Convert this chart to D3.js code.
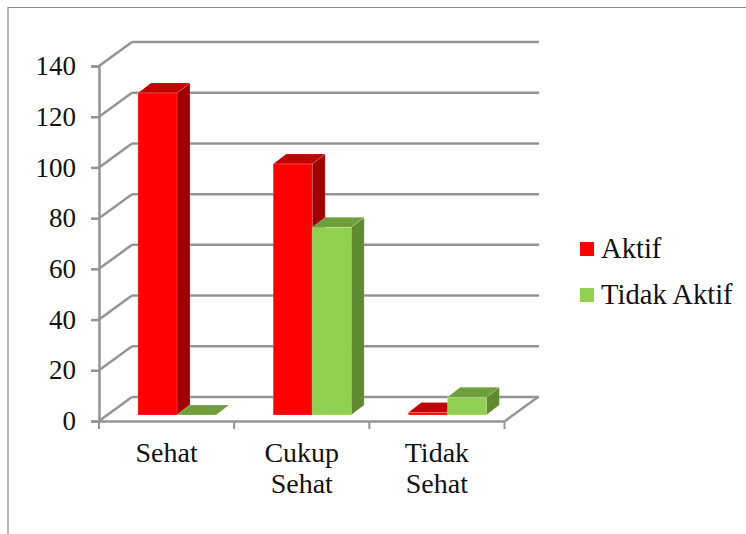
<!DOCTYPE html>
<html>
<head>
<meta charset="utf-8">
<script src="https://cdn.jsdelivr.net/npm/d3@7"></script>
<style>
    html, body { margin: 0; padding: 0; background: #fff; }
    svg { display: block; }
    text { font-family: "Liberation Serif", serif; fill: #111; }
</style>
</head>
<body>
<div id="chart"></div>
<script>
// Chart data
var categories = ["Sehat", "Cukup Sehat", "Tidak Sehat"];
var seriesNames = ["Aktif", "Tidak Aktif"];
var aktif = [127, 99, 1];
var tidakAktif = [0, 74, 7];
var yTicks = [0, 20, 40, 60, 80, 100, 120, 140];

var seriesValues = [aktif, tidakAktif];
var frontColors = ["#ff0000", "#92d050"];
var sideColors = ["#a00000", "#5f8a30"];
var topColors = ["#c00000", "#6f9e3c"];

var width = 746, height = 534;
var gridColor = "#949494";

// offset of the back wall, and of the bars from the front of the floor
var wall = {x: 33, y: -24};
var barDepth = {x: 13, y: -10};
var barShift = -6;

var svg = d3.select("#chart")
    .append("svg")
    .attr("width", width)
    .attr("height", height);

// page border (left and top only)
svg.append("path")
    .attr("d", "M8,534V7.5H746")
    .attr("fill", "none")
    .attr("stroke", "#8a8a8a")
    .attr("stroke-width", 1.2);

// Scales
var x = d3.scaleBand()
    .domain(categories)
    .range([99, 504.5]);

var xSeries = d3.scaleBand()
    .domain(seriesNames)
    .range([39, 117]);

var y = d3.scaleLinear()
    .domain([0, 140])
    .range([421, 66]);

// Gridlines on the back wall and the slanted lines on the side wall
var grid = svg.append("g");

grid.selectAll(".back")
    .data(yTicks)
    .enter()
    .append("line")
    .attr("x1", 99 + wall.x)
    .attr("x2", 505 + wall.x + 1)
    .attr("y1", d => y(d) + wall.y)
    .attr("y2", d => y(d) + wall.y);

grid.selectAll(".slant")
    .data(yTicks)
    .enter()
    .append("line")
    .attr("x1", 99)
    .attr("x2", 99 + wall.x)
    .attr("y1", d => y(d))
    .attr("y2", d => y(d) + wall.y);

// right edge of the floor
grid.append("line")
    .attr("x1", 505)
    .attr("x2", 505 + wall.x)
    .attr("y1", y(0))
    .attr("y2", y(0) + wall.y);

grid.selectAll("line")
    .attr("stroke", gridColor)
    .attr("stroke-width", 2.5);

// Axes
var yAxis = svg.append("g")
    .attr("transform", "translate(99,0)")
    .call(d3.axisLeft(y).tickValues(yTicks).tickSize(8).tickPadding(15));

yAxis.selectAll("text")
    .attr("font-size", 27)
    .attr("font-family", "Liberation Serif")
    .style("fill", "#111");

var xAxis = svg.append("g")
    .attr("transform", "translate(0,421)")
    .call(d3.axisBottom(x).tickSize(0).tickFormat(""));

// ticks sit on the category edges, not the centres
xAxis.selectAll(".tick").remove();
xAxis.selectAll(".edge")
    .data(categories.concat(["end"]))
    .enter()
    .append("line")
    .attr("x1", (d, i) => i < categories.length ? x(d) : x.range()[1])
    .attr("x2", (d, i) => i < categories.length ? x(d) : x.range()[1])
    .attr("y1", 0)
    .attr("y2", 8)
    .attr("stroke", gridColor)
    .attr("stroke-width", 2);

svg.selectAll(".domain, .tick line")
    .attr("stroke", gridColor)
    .attr("stroke-width", 2.5);

// Category labels, wrapped on the space
svg.append("g")
    .selectAll("text")
    .data(categories)
    .enter()
    .append("text")
    .attr("text-anchor", "middle")
    .attr("font-size", 28)
    .each(function(d) {
        var label = d3.select(this);
        d.split(" ").forEach(function(word, i) {
            label.append("tspan")
                .attr("x", x(d) + x.bandwidth() / 2)
                .attr("y", 462 + i * 31)
                .text(word);
        });
    });

// Bars: front, side and top face of each box
function points(list) {
    return list.map(p => p.join(",")).join(" ");
}

seriesNames.forEach(function(name, s) {
    categories.forEach(function(cat, c) {
        var value = seriesValues[s][c];
        var left = x(cat) + xSeries(name);
        var right = left + xSeries.bandwidth();
        var top = y(value) + barShift;
        var base = y(0) + barShift;
        var bar = svg.append("g")
            .attr("stroke-width", 0.6)
            .attr("stroke-opacity", 0.3)
            .attr("stroke", "#fff");

        bar.append("polygon")
            .attr("points", points([[right, top], [right + barDepth.x, top + barDepth.y],
                [right + barDepth.x, base + barDepth.y], [right, base]]))
            .attr("fill", sideColors[s]);

        bar.append("polygon")
            .attr("points", points([[left, top], [right, top],
                [right + barDepth.x, top + barDepth.y], [left + barDepth.x, top + barDepth.y]]))
            .attr("fill", topColors[s]);

        bar.append("rect")
            .attr("x", left)
            .attr("y", top)
            .attr("width", right - left)
            .attr("height", base - top)
            .attr("fill", frontColors[s]);
    });
});

// Legend
var legendY = d3.scalePoint()
    .domain(seriesNames)
    .range([258, 304]);

var legend = svg.append("g")
    .selectAll("g")
    .data(seriesNames)
    .enter()
    .append("g");

legend.append("rect")
    .attr("x", 580)
    .attr("y", d => legendY(d) - 16)
    .attr("width", 14)
    .attr("height", 14)
    .attr("fill", (d, i) => frontColors[i]);

legend.append("text")
    .attr("x", 601)
    .attr("y", d => legendY(d))
    .attr("font-size", 28.6)
    .text(d => d);
</script>
</body>
</html>
